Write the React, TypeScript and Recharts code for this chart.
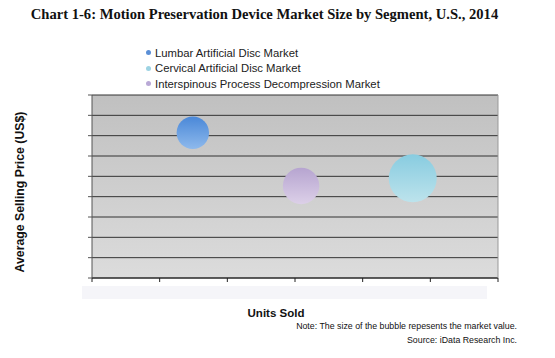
import React from "react";
import { ScatterChart, Scatter, XAxis, YAxis, ZAxis, CartesianGrid } from "recharts";

const segments = [
  "Lumbar Artificial Disc Market",
  "Cervical Artificial Disc Market",
  "Interspinous Process Decompression Market",
];
const unitsSold = [1.49, 4.74, 3.09];
const avgPrice = [7.14, 4.9, 4.53];
const marketValue = [41, 90, 52];
const xTicks = [0, 1, 2, 3, 4, 5, 6];
const yTicks = [0, 1, 2, 3, 4, 5, 6, 7, 8, 9];

const bubbleTop = ["#4a88d8", "#88cce0", "#b6a4d0"];
const bubbleBottom = ["#8eb9ec", "#bde3ec", "#dcd0e8"];
const legendDot = ["#5b8fd6", "#9dd3e3", "#b9a9d6"];

const series = segments.map((name, i) => ({
  name,
  data: [{ x: unitsSold[i], y: avgPrice[i], z: marketValue[i] }],
}));

const sans = "Arial, 'Liberation Sans', sans-serif";

export default function App() {
  return (
    <div style={{ position: "absolute", left: 0, top: 0, width: 555, height: 358, background: "#fff", fontFamily: sans }}>
      <div
        style={{
          position: "absolute",
          left: 0,
          width: 529,
          top: 6,
          textAlign: "center",
          fontFamily: "'Liberation Serif', 'Times New Roman', serif",
          fontWeight: "bold",
          fontSize: 14.6,
          color: "#111",
          whiteSpace: "nowrap",
        }}
      >
        Chart 1-6: Motion Preservation Device Market Size by Segment, U.S., 2014
      </div>

      <div style={{ position: "absolute", left: 146, top: 45 }}>
        {segments.map((s, i) => (
          <div key={s} style={{ height: 15.5, fontSize: 11.3, color: "#222", display: "flex", alignItems: "center" }}>
            <span
              style={{
                display: "inline-block",
                width: 5,
                height: 5,
                borderRadius: "50%",
                background: legendDot[i],
                marginRight: 4,
              }}
            />
            {s}
          </div>
        ))}
      </div>

      <div style={{ position: "absolute", left: 82, top: 286, width: 405, height: 13, background: "#f5f5f9" }} />

      <div style={{ position: "absolute", left: 0, top: 0 }}>
        <ScatterChart width={555} height={358} margin={{ top: 95, right: 55, bottom: 76, left: 88 }}>
          <defs>
            <linearGradient id="plotBg" x1="0" y1="0" x2="0" y2="1">
              <stop offset="0%" stopColor="#c0c0c0" />
              <stop offset="100%" stopColor="#dcdcdc" />
            </linearGradient>
            {segments.map((s, i) => (
              <linearGradient key={s} id={`bub${i}`} x1="0" y1="0" x2="0" y2="1">
                <stop offset="0%" stopColor={bubbleTop[i]} />
                <stop offset="100%" stopColor={bubbleBottom[i]} />
              </linearGradient>
            ))}
          </defs>
          <CartesianGrid vertical={false} fill="url(#plotBg)" stroke="#333" strokeWidth={1} />
          <XAxis
            type="number"
            dataKey="x"
            domain={[0, 6]}
            ticks={xTicks}
            height={4}
            tickSize={4}
            tickFormatter={() => ""}
            stroke="#222"
          />
          <YAxis
            type="number"
            dataKey="y"
            domain={[0, 9]}
            ticks={yTicks}
            width={4}
            tickSize={4}
            tickFormatter={() => ""}
            stroke="#555"
          />
          <YAxis
            yAxisId="right"
            orientation="right"
            type="number"
            domain={[0, 9]}
            width={2}
            tick={false}
            tickLine={false}
            stroke="#999"
          />
          <ZAxis type="number" dataKey="z" domain={[0, 90]} range={[0, 1810]} />
          {series.map((s, i) => (
            <Scatter key={s.name} name={s.name} data={s.data} fill={`url(#bub${i})`} isAnimationActive={false} />
          ))}
        </ScatterChart>
      </div>

      <div style={{ position: "absolute", left: 20, top: 192, width: 0, height: 0 }}>
        <div
          style={{
            position: "absolute",
            left: 0,
            top: 0,
            transform: "translate(-50%, -50%) rotate(-90deg)",
            fontWeight: "bold",
            fontSize: 12.3,
            color: "#111",
            whiteSpace: "nowrap",
          }}
        >
          Average Selling Price (US$)
        </div>
      </div>

      <div
        style={{
          position: "absolute",
          left: 226,
          width: 100,
          top: 307,
          textAlign: "center",
          fontWeight: "bold",
          fontSize: 11.5,
          color: "#111",
        }}
      >
        Units Sold
      </div>

      <div style={{ position: "absolute", right: 38, top: 321, fontSize: 8.8, color: "#111", whiteSpace: "nowrap" }}>
        Note: The size of the bubble repesents the market value.
      </div>
      <div style={{ position: "absolute", right: 38, top: 335, fontSize: 8.8, color: "#111", whiteSpace: "nowrap" }}>
        Source: iData Research Inc.
      </div>
    </div>
  );
}
